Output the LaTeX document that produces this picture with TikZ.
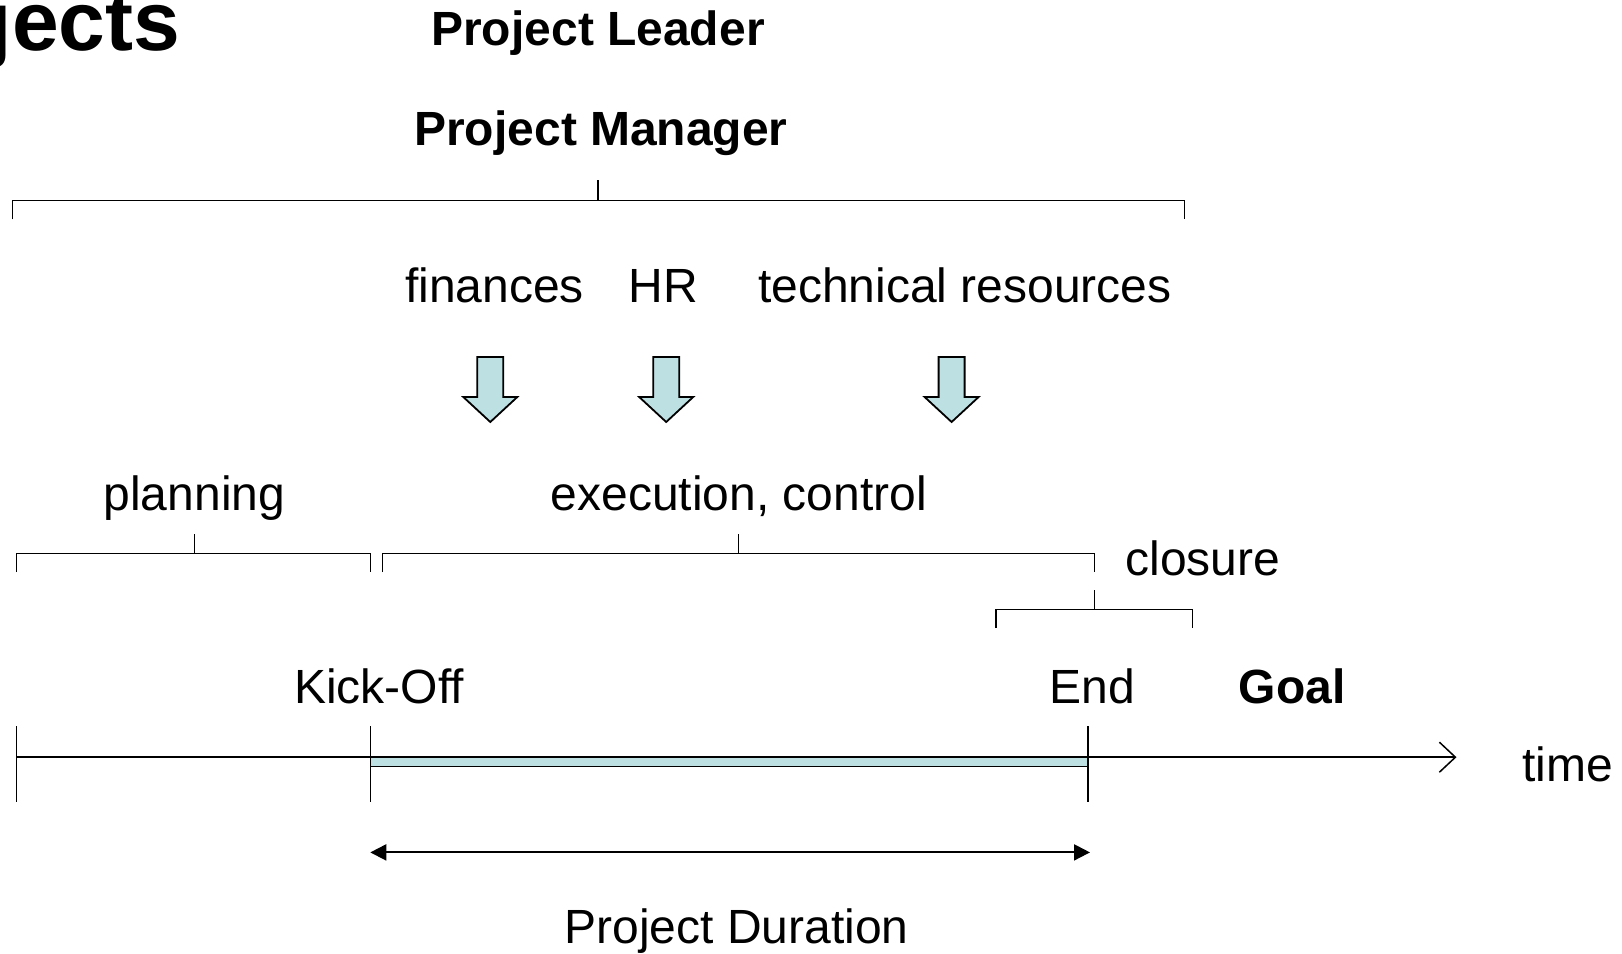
\documentclass[tikz,border=0pt]{standalone}
\usepackage{fontspec}
\setmainfont{Liberation Sans}
\usetikzlibrary{arrows.meta}

\definecolor{barcyan}{RGB}{189,224,227}

\begin{document}
\begin{tikzpicture}[x=1pt, y=-1pt, line width=1.5pt,
  txt/.style={inner sep=0pt, anchor=base, font=\fontsize{48}{56}\selectfont},
  boldtxt/.style={txt, font=\fontsize{48}{56}\selectfont\bfseries},
  downarrow/.pic={\draw[fill=barcyan, line width=1.8pt, line join=miter]
    (-13,0) -- (13,0) -- (13,40) -- (27,40) -- (0,65) -- (-27,40) -- (-13,40) -- cycle;}]

\useasboundingbox (0,0) rectangle (1622,953);

% title and heads
\node[inner sep=0pt, anchor=base east, font=\fontsize{84}{90}\selectfont\bfseries] (title) at (181,50) {jects};
\node[boldtxt] (leader) at (598,45) {Project Leader};
\node[boldtxt] (manager) at (601,145) {Project Manager};

% top bracket
\draw (12.4,219.3) -- (12.4,200.7) -- (1184.4,200.7) -- (1184.4,219.3);
\draw (597.9,200.7) -- (597.9,180);

% resources
\node[txt] (fin) at (494.4,302) {finances};
\node[txt] (hr) at (663.6,302) {HR};
\node[txt] (tech) at (965,302) {technical resources};

\pic at (490.3,357) {downarrow};
\pic at (666.2,357) {downarrow};
\pic at (951.6,357) {downarrow};

% phases
\node[txt] (plan) at (194.4,510) {planning};
\node[txt] (exec) at (739,510) {execution, control};
\node[txt] (close) at (1203,575) {closure};

\draw (16.5,572) -- (16.5,553.4) -- (370.3,553.4) -- (370.3,572);
\draw (194.5,553.4) -- (194.5,533.8);
\draw (382.7,572) -- (382.7,553.4) -- (1094.4,553.4) -- (1094.4,572);
\draw (738.6,553.4) -- (738.6,533.8);
\draw (996,628) -- (996,609.3) -- (1192.7,609.3) -- (1192.7,628);
\draw (1094.4,609.3) -- (1094.4,589.6);

% milestones
\node[txt] (kick) at (379,703.4) {Kick-Off};
\node[txt] (endtxt) at (1092.3,703.4) {End};
\node[boldtxt] (goal) at (1292,703.4) {Goal};

% time axis
\coordinate (tstart) at (16.5,757.2);
\coordinate (tkick) at (370.3,757.2);
\coordinate (tend) at (1088.2,757.2);
\coordinate (ttip) at (1456.5,757.2);
\draw[-{Straight Barb[length=16pt,width=30pt,line width=1.5pt]}] (tstart) -- (ttip);
\draw[fill=barcyan] (tkick) rectangle (1088.2,766.5);
\foreach \x in {16.5,370.3,1088.2}
  \draw (\x,726) -- (\x,801.7);
\node[txt] (time) at (1567.6,781) {time};

% duration
\coordinate (dstart) at (370.3,852.4);
\coordinate (dend) at (1090,852.4);
\draw[{Triangle[length=16pt,width=16pt]}-{Triangle[length=16pt,width=16pt]}, line width=2pt] (dstart) -- (dend);
\node[txt] (dur) at (736.5,943) {Project Duration};

\end{tikzpicture}
\end{document}
